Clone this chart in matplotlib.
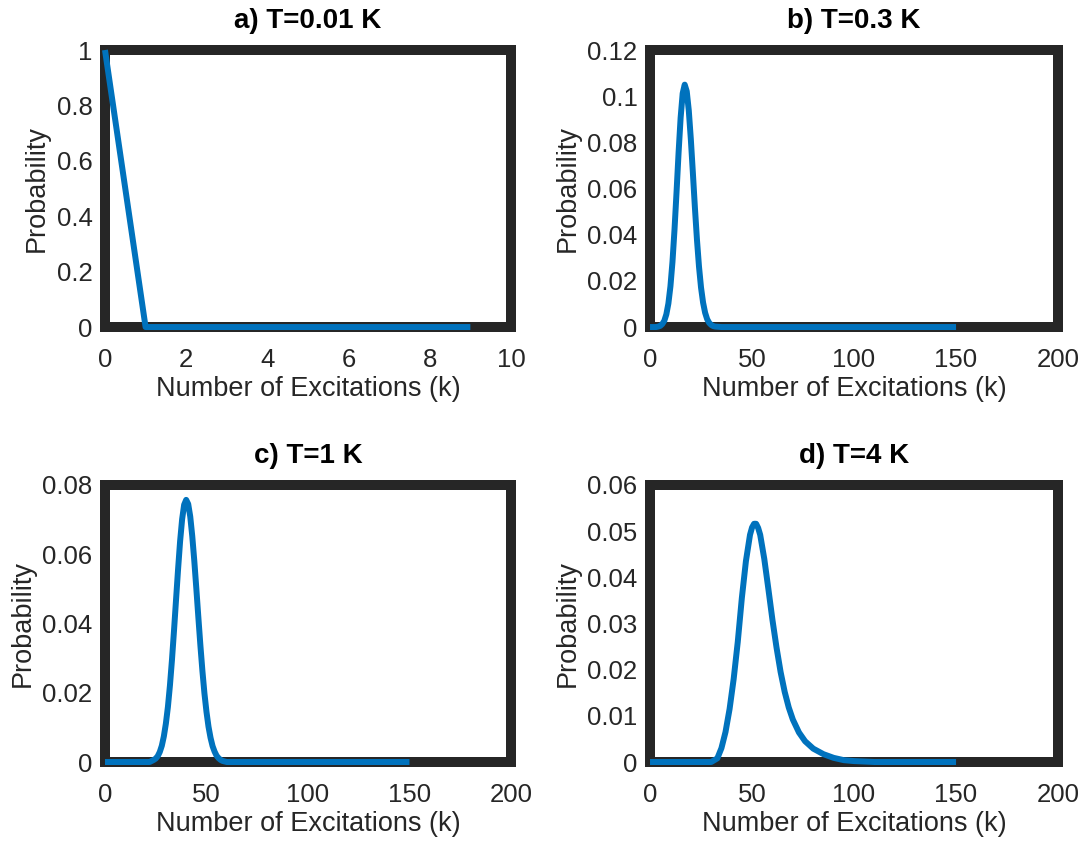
# Import libraries
import matplotlib
matplotlib.use('Agg')
import matplotlib.pyplot as plt

plt.rcParams['font.family'] = ['Liberation Sans', 'DejaVu Sans']

# Data
titles = ['a) T=0.01 K', 'b) T=0.3 K', 'c) T=1 K', 'd) T=4 K']

k_a = [0, 1, 2, 3, 4, 5, 6, 7, 8, 9]
p_a = [1, 0, 0, 0, 0, 0, 0, 0, 0, 0]

k_b = [0, 3, 4, 5, 6, 7, 8, 9, 10, 11, 12, 13, 14, 15, 16, 17, 18, 19, 20,
       21, 22, 23, 24, 25, 26, 27, 28, 29, 30, 31, 32, 35, 150]
p_b = [0, 0, 0.0002, 0.0005, 0.0013, 0.0027, 0.0055, 0.0102, 0.0176, 0.0282,
       0.0422, 0.0585, 0.0756, 0.0907, 0.1012, 0.105, 0.1021, 0.0938, 0.0814,
       0.0668, 0.0517, 0.0379, 0.0262, 0.0171, 0.0106, 0.0062, 0.0034, 0.0018,
       0.0009, 0.0004, 0.0002, 0, 0]

k_c = [0, 22, 23, 24, 25, 26, 27, 28, 29, 30, 31, 32, 33, 34, 35, 36, 37, 38,
       39, 40, 41, 42, 43, 44, 45, 46, 47, 48, 49, 50, 51, 52, 53, 54, 55, 56,
       57, 58, 60, 150]
p_c = [0, 0, 0.0003, 0.0006, 0.0010, 0.0017, 0.0029, 0.0047, 0.0074, 0.0111,
       0.0159, 0.0221, 0.0295, 0.0379, 0.0468, 0.0556, 0.0637, 0.0701, 0.0743,
       0.0757, 0.0745, 0.0709, 0.0652, 0.0581, 0.0501, 0.0418, 0.0337, 0.0263,
       0.0198, 0.0145, 0.0102, 0.0070, 0.0046, 0.0030, 0.0018, 0.0011, 0.0006,
       0.0003, 0, 0]

k_d = [0, 30, 33, 35, 37, 39, 41, 43, 45, 47, 49, 50, 51, 52, 53, 54, 56, 58,
       60, 62, 64, 66, 68, 70, 73, 76, 80, 85, 90, 95, 100, 110, 150]
p_d = [0, 0, 0.0008, 0.003, 0.0065, 0.0115, 0.018, 0.026, 0.0355, 0.0435,
       0.0492, 0.0508, 0.0516, 0.0516, 0.0507, 0.0492, 0.044, 0.0375, 0.0308,
       0.0248, 0.0195, 0.0152, 0.0118, 0.0092, 0.0064, 0.0045, 0.0029, 0.0017,
       0.0009, 0.0004, 0.0002, 0, 0]

series = [(k_a, p_a), (k_b, p_b), (k_c, p_c), (k_d, p_d)]
xlims = [10, 200, 200, 200]
xsteps = [2, 50, 50, 50]
ylims = [1, 0.12, 0.08, 0.06]
ysteps = [0.2, 0.02, 0.02, 0.01]

line_color = '#0072BD'
frame_color = '#262626'


def fmt(v):
    # MATLAB-like tick labels: 0, 0.2, 1, 0.02 ...
    return ('%.4f' % v).rstrip('0').rstrip('.')


fig = plt.figure(figsize=(10.89, 8.42), dpi=100)
boxes = [
    [0.0964, 0.6116, 0.3728, 0.329],
    [0.5969, 0.6116, 0.3747, 0.329],
    [0.0964, 0.0950, 0.3728, 0.329],
    [0.5969, 0.0950, 0.3747, 0.329],
]

for i, (k, p) in enumerate(series):
    ax = fig.add_axes(boxes[i])
    ax.plot(k, p, color=line_color, lw=4.3, solid_capstyle='butt', zorder=3,
            clip_on=False)
    ax.set_xlim(0, xlims[i])
    ax.set_ylim(0, ylims[i])
    nx = int(round(xlims[i] / xsteps[i]))
    ny = int(round(ylims[i] / ysteps[i]))
    xt = [j * xsteps[i] for j in range(nx + 1)]
    yt = [round(j * ysteps[i], 4) for j in range(ny + 1)]
    ax.set_xticks(xt)
    ax.set_xticklabels([fmt(v) for v in xt])
    ax.set_yticks(yt)
    ax.set_yticklabels([fmt(v) for v in yt])
    for sp in ax.spines.values():
        sp.set_linewidth(7.2)
        sp.set_color(frame_color)
        sp.set_zorder(2)
    ax.tick_params(axis='x', length=0, pad=15, labelsize=18.5, colors=frame_color)
    ax.tick_params(axis='y', length=0, pad=9, labelsize=18.5, colors=frame_color)
    ax.set_xlabel('Number of Excitations (k)', fontsize=19.5, color=frame_color,
                  labelpad=3)
    ax.set_ylabel('Probability', fontsize=19.5, color=frame_color, labelpad=5)
    ax.set_title(titles[i], fontsize=20, fontweight='bold', color='black',
                 pad=16)

fig.savefig('out.png', dpi=100)
